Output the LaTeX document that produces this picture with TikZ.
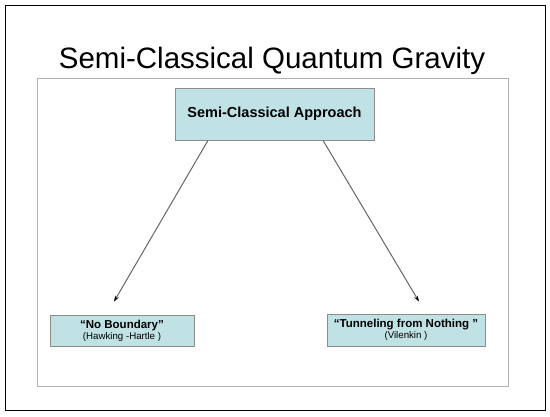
\documentclass[tikz,border=0pt]{standalone}
\usepackage{fontspec}
\setmainfont{Liberation Sans}
\usetikzlibrary{arrows.meta}

\definecolor{boxfill}{RGB}{192,226,229}
\definecolor{boxline}{RGB}{140,140,140}

\tikzset{
    approachbox/.style={draw=boxline, fill=boxfill, line width=0.8pt, inner sep=0pt},
    branch/.style={draw=black!60, line width=1pt, -{Stealth[length=6pt,width=4pt,black]}}
}

\begin{document}
\begin{tikzpicture}[x=1pt, y=-1pt]
    \useasboundingbox (0,0) rectangle (550,417);

    % Frames
    \draw[line width=1pt] (5,6) rectangle (545,411);
    \draw[black!30, line width=0.8pt] (37,78) rectangle (508,386);

    % Title
    \node[anchor=base] (title) at (272,69) {\fontsize{29.5}{30}\selectfont Semi-Classical Quantum Gravity};

    % Boxes
    \node[approachbox, minimum width=199pt, minimum height=52pt] (approach) at (274.5,114)
        {\fontsize{14.5}{16}\selectfont\bfseries Semi-Classical Approach};

    \node[approachbox, minimum width=144pt, minimum height=31pt, align=center] (noboundary) at (122,330.5)
        {\fontsize{11.5}{11}\selectfont\bfseries “No Boundary”\\[-1pt]
         \fontsize{9.7}{11}\selectfont (Hawking -Hartle )};

    \node[approachbox, minimum width=158pt, minimum height=32pt, align=center] (tunneling) at (406,330)
        {\fontsize{11.5}{11}\selectfont\bfseries “Tunneling from Nothing ”\\[-1pt]
         \fontsize{9.7}{11}\selectfont (Vilenkin )};

    % Arrows
    \draw[branch] ([xshift=-66.5pt]approach.south) -- ([xshift=-8pt,yshift=13pt]noboundary.north);
    \draw[branch] ([xshift=48.5pt]approach.south) -- ([xshift=13pt,yshift=12pt]tunneling.north);
\end{tikzpicture}
\end{document}
